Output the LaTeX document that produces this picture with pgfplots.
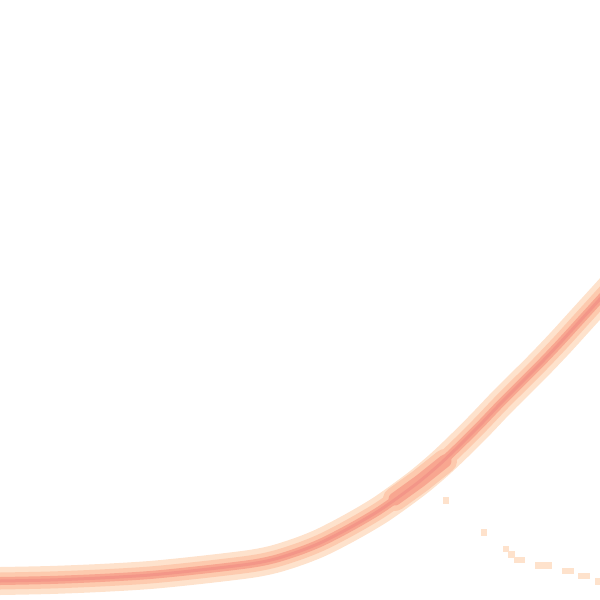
\documentclass[border=0pt]{standalone}
\usepackage{pgfplots}
\pgfplotsset{compat=1.18}

\definecolor{fringe}{RGB}{254,226,204}
\definecolor{peach}{RGB}{253,202,174}
\definecolor{salmon}{RGB}{248,166,144}
\definecolor{core}{RGB}{240,140,132}

% centre of the density ridge, in image pixels (y measured downwards)
\pgfplotstableread{
x y
-10 581
0 581
50 580
100 578
150 575
200 570
250 564
275 559
300 551
320 543
340 533
360 522
380 510
400 496
420 481
440 464
460 445
480 425
500 404
520 384
540 364
560 343
580 321
600 299
620 277
}\ridge

\pgfplotstableread{
x y
395 499
420 481
445 461
}\bulge

% faint second branch
\pgfplotstableread{
x y
445.5 500
483.5 532
505.5 548.5
511 554
516.5 559.5
521.5 559.5
538 565
543 565
548.5 565
565 570.5
570.5 570.5
581 575.5
586.5 575.5
597.5 581
}\branch

\begin{document}
\begin{tikzpicture}
\path[use as bounding box] (0,0) rectangle (600pt,600pt);
\begin{axis}[
  at={(0,0)}, anchor=south west,
  scale only axis, width=600pt, height=600pt,
  xmin=0, xmax=600, ymin=0, ymax=600,
  y dir=reverse,
  hide axis, clip=true,
]
  \addplot[fringe, line width=28pt, smooth, tension=0.5] table {\ridge};
  \addplot[peach, line width=17pt, smooth, tension=0.5] table {\ridge};
  \addplot[peach, line width=24pt, line cap=round] table {\bulge};
  \addplot[salmon, line width=8pt, smooth, tension=0.5] table {\ridge};
  \addplot[salmon, line width=13pt, line cap=round] table {\bulge};
  \addplot[core, line width=3pt, smooth, tension=0.5, opacity=0.6] table {\ridge};
  \addplot[only marks, mark=square*, mark size=2.7pt, fringe,
    mark options={draw=none, fill=fringe}] table {\branch};
\end{axis}
\end{tikzpicture}
\end{document}
